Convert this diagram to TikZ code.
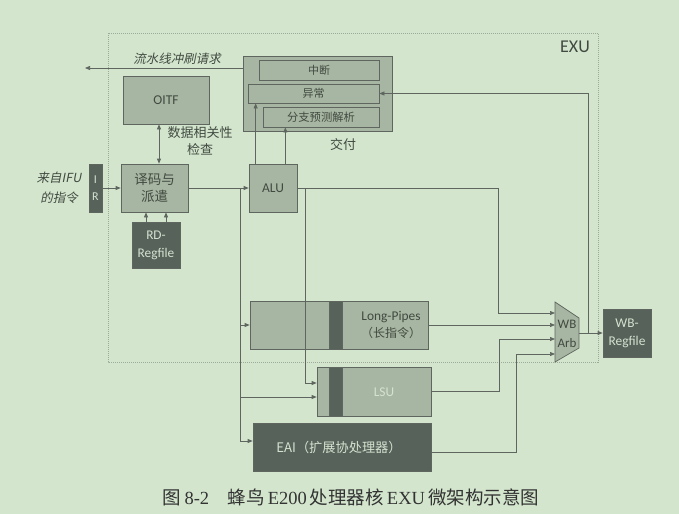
\documentclass[tikz,border=0pt]{standalone}
\usepackage{fontspec}
\setmainfont{Carlito}
\newfontfamily\cjk{Noto Sans CJK SC}
\newfontfamily\cjkit[FakeSlant=0.2]{Noto Sans CJK SC}
\newfontfamily\serif{Liberation Serif}
\usetikzlibrary{arrows.meta}
\definecolor{bg}{HTML}{D3E6CD}
\definecolor{boxfill}{HTML}{A7B6A2}
\definecolor{darkfill}{HTML}{56625A}
\definecolor{linec}{HTML}{5F665F}
\definecolor{txt}{HTML}{414A41}
\definecolor{lighttxt}{HTML}{D5E2CF}
\definecolor{exuline}{HTML}{9DAA9A}
\tikzset{
  blk/.style={draw=linec, fill=boxfill, line width=0.7pt, inner sep=0pt, text=txt, align=center},
  dblk/.style={draw=linec, fill=darkfill, line width=0.7pt, inner sep=0pt, text=lighttxt, align=center},
  wire/.style={draw=linec, line width=0.7pt},
  arr/.style={wire, -{Triangle[length=5pt,width=4pt]}},
  darr/.style={wire, {Triangle[length=5pt,width=4pt]}-{Triangle[length=5pt,width=4pt]}},
  lbl/.style={text=txt, inner sep=0pt, align=center},
}
\begin{document}
\begin{tikzpicture}[x=1pt,y=-1pt]
\fill[bg] (0,0) rectangle (679,514);
\useasboundingbox (0,0) rectangle (679,514);
% EXU frame
\draw[exuline, line width=0.6pt, dash pattern=on 1pt off 1pt] (108,33) rectangle (598,362);
\node[lbl, font=\fontsize{18}{20}\selectfont] (exu) at (575,47) {EXU};
% commit block
\node[blk, minimum width=149pt, minimum height=75pt] (commit) at (317.5,93.5) {};
\node[blk, minimum width=120pt, minimum height=20pt, font=\cjk\fontsize{11}{12}\selectfont] (int) at (319,70) {中断};
\node[blk, minimum width=131pt, minimum height=19pt, font=\cjk\fontsize{11}{12}\selectfont] (exc) at (313.5,93.5) {异常};
\node[blk, minimum width=116pt, minimum height=20pt, font=\cjk\fontsize{11.3}{12}\selectfont] (br) at (321,117) {分支预测解析};
\node[lbl, font=\cjk\fontsize{13}{15}\selectfont] (commitlbl) at (343,145) {交付};
% flush request
\coordinate (flushend) at (85,68);
\draw[arr] (commit.west |- flushend) -- (flushend);
\node[lbl, font=\cjkit\fontsize{12.5}{14}\selectfont] (flushlbl) at (177,59) {流水线冲刷请求};
% OITF
\node[blk, minimum width=86pt, minimum height=48pt, font=\fontsize{13.5}{15}\selectfont] (oitf) at (166,100) {OITF};
\node[lbl, font=\cjk\fontsize{13}{17}\selectfont] (deplbl) at (200,141) {数据相关性\\检查};
% decode, IR, RD-Regfile
\node[blk, minimum width=67pt, minimum height=48pt, font=\cjk\fontsize{13.5}{17}\selectfont] (dec) at (154.5,188) {译码与\\派遣};
\node[dblk, minimum width=13pt, minimum height=48pt, font=\fontsize{12}{17}\selectfont] (ir) at (95.5,188) {I\\R};
\node[lbl, font=\cjkit\fontsize{12.5}{20}\selectfont] (ifulbl) at (59,188) {来自IFU\\的指令};
\node[dblk, minimum width=48pt, minimum height=46pt, font=\fontsize{13.3}{18}\selectfont] (rd) at (156,245) {RD-\\Regfile};
% ALU
\node[blk, minimum width=48pt, minimum height=48pt, font=\fontsize{13.5}{15}\selectfont] (alu) at (273,188) {ALU};
% Long pipes
\node[blk, minimum width=178pt, minimum height=48pt] (lp) at (339,325) {};
\node[dblk, minimum width=13pt, minimum height=48pt] (lpstripe) at (335.5,325) {};
\node[lbl, font=\fontsize{13.4}{17}\selectfont] (lptxt) at (391,325) {Long-Pipes\\{\cjk\fontsize{12}{17}\selectfont （长指令）}};
% LSU
\node[blk, minimum width=114pt, minimum height=49pt] (lsu) at (374,391.5) {};
\node[dblk, minimum width=13pt, minimum height=49pt] (lsustripe) at (335.5,391.5) {};
\node[lbl, text=lighttxt, font=\fontsize{13.4}{15}\selectfont] (lsutxt) at (384,392) {LSU};
% EAI
\node[dblk, minimum width=178pt, minimum height=48pt] (eai) at (342,447) {};
\node[lbl, text=lighttxt, font=\cjk\fontsize{13.2}{15}\selectfont] (eaitxt) at (339,447) {EAI（扩展协处理器）};
% WB arbiter
\draw[draw=linec, fill=boxfill, line width=0.7pt] (555,302) -- (579,318) -- (579,348) -- (555,362) -- cycle;
\node[lbl, font=\fontsize{13}{19}\selectfont] (arb) at (567,334) {WB\\Arb};
\coordinate (in1) at (555,313);
\coordinate (in2) at (555,325);
\coordinate (in3) at (555,339);
\coordinate (in4) at (555,354);
\coordinate (arbout) at (579,333);
\node[dblk, minimum width=48pt, minimum height=48pt, font=\fontsize{13.4}{18}\selectfont] (wbrf) at (627,333) {WB-\\Regfile};
% connectors
\draw[arr] (ir.east) -- (dec.west);
\draw[darr] ([xshift=-7pt]oitf.south) -- ([xshift=-7pt]oitf.south |- dec.north);
\draw[arr] ([xshift=-10pt]rd.north) -- ([xshift=-10pt]rd.north |- dec.south);
\draw[arr] ([xshift=10pt]rd.north) -- ([xshift=10pt]rd.north |- dec.south);
\draw[arr] (dec.east) -- (alu.west);
\draw[arr] ([xshift=7pt]alu.north west) -- ([xshift=7pt]alu.north west |- exc.south);
\draw[arr] ([xshift=-12pt]alu.north east) -- ([xshift=-12pt]alu.north east |- br.south);
% dispatch bus
\coordinate (dv) at (240,188);
\draw[arr] (dv) |- ([yshift=6pt]eai.west);
\draw[arr] (dv |- lp.west) -- (lp.west);
\draw[arr] (dv |- 0,397) -- (lsu.west |- 0,397);
% ALU outputs
\coordinate (ab) at (305,188);
\coordinate (av) at (498,188);
\draw[arr] (alu.east) -- (av) |- (in1);
\draw[arr] (ab) |- (lsu.west |- 0,383);
% unit outputs
\draw[arr] (lp.east |- in2) -- (in2);
\coordinate (lsuv) at (499,391);
\draw[arr] (lsu.east |- lsuv) -- (lsuv) |- (in3);
\coordinate (eaiv) at (516,452);
\draw[arr] (eai.east |- eaiv) -- (eaiv) |- (in4);
\draw[arr] (arbout) -- (wbrf.west);
\coordinate (fb) at (588,333);
\draw[arr] (fb) |- (exc.east);
% caption
\node[lbl, text=black!80, font=\fontsize{18.5}{20}\selectfont] (cap) at (351,497)
  {{\cjk 图}\,{\serif 8-2}\quad{\cjk 蜂鸟}\,{\serif E200}\,{\cjk 处理器核}\,{\serif EXU}\,{\cjk 微架构示意图}};
\end{tikzpicture}
\end{document}
